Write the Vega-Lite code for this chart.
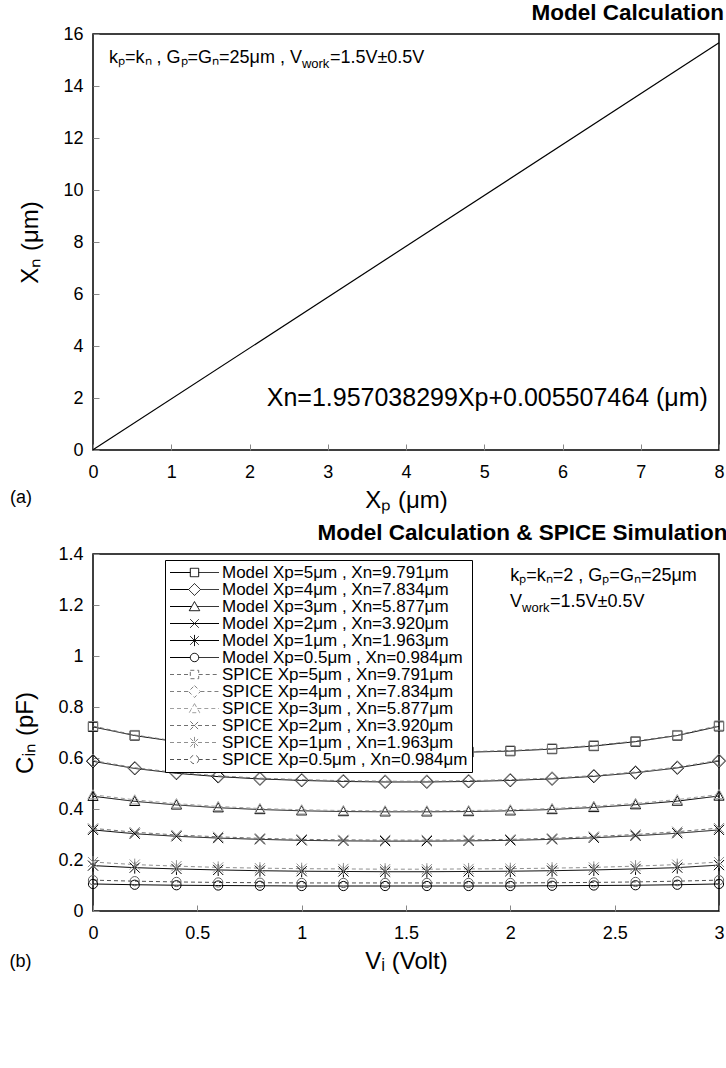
{
  "$schema": "https://vega.github.io/schema/vega-lite/v6.json",
  "background": "white",
  "padding": {"left": 8, "top": 0, "right": 4, "bottom": 0},
  "spacing": 7,
  "datasets": {
    "lineA": [{"x": 0, "y": 0.0055}, {"x": 8, "y": 15.662}],
    "annA_R": [{"x": 2.67, "y": 15.08, "t": "kₚ=kₙ , Gₚ=Gₙ=25μm , V"}],
    "annA_S": [{"x": 2.67, "y": 15.08, "t": "work"}],
    "annA_L": [{"x": 2.67, "y": 15.08, "t": "=1.5V±0.5V"}],
    "formulaA": [{"x": 2.22, "y": 2.0, "t": "Xn=1.957038299Xp+0.005507464 (μm)"}],
    "tagA": [{"x": -1.06, "y": -1.85, "t": "(a)"}],
    "labels": [
      {"key": "M5", "series": "Model Xp=5μm , Xn=9.791μm"},
      {"key": "M4", "series": "Model Xp=4μm , Xn=7.834μm"},
      {"key": "M3", "series": "Model Xp=3μm , Xn=5.877μm"},
      {"key": "M2", "series": "Model Xp=2μm , Xn=3.920μm"},
      {"key": "M1", "series": "Model Xp=1μm , Xn=1.963μm"},
      {"key": "M05", "series": "Model Xp=0.5μm , Xn=0.984μm"},
      {"key": "S5", "series": "SPICE Xp=5μm , Xn=9.791μm"},
      {"key": "S4", "series": "SPICE Xp=4μm , Xn=7.834μm"},
      {"key": "S3", "series": "SPICE Xp=3μm , Xn=5.877μm"},
      {"key": "S2", "series": "SPICE Xp=2μm , Xn=3.920μm"},
      {"key": "S1", "series": "SPICE Xp=1μm , Xn=1.963μm"},
      {"key": "S05", "series": "SPICE Xp=0.5μm , Xn=0.984μm"}
    ],
    "capB": [
      {"x": 0.0, "M5": 0.722, "M4": 0.587, "M3": 0.450, "M2": 0.318, "M1": 0.178, "M05": 0.106, "S5": 0.725, "S4": 0.590, "S3": 0.456, "S2": 0.324, "S1": 0.192, "S05": 0.121},
      {"x": 0.2, "M5": 0.688, "M4": 0.559, "M3": 0.430, "M2": 0.303, "M1": 0.170, "M05": 0.103, "S5": 0.690, "S4": 0.562, "S3": 0.436, "S2": 0.309, "S1": 0.182, "S05": 0.117},
      {"x": 0.4, "M5": 0.664, "M4": 0.540, "M3": 0.416, "M2": 0.293, "M1": 0.165, "M05": 0.101, "S5": 0.666, "S4": 0.543, "S3": 0.421, "S2": 0.298, "S1": 0.176, "S05": 0.114},
      {"x": 0.6, "M5": 0.648, "M4": 0.527, "M3": 0.405, "M2": 0.286, "M1": 0.161, "M05": 0.100, "S5": 0.650, "S4": 0.530, "S3": 0.410, "S2": 0.291, "S1": 0.171, "S05": 0.112},
      {"x": 0.8, "M5": 0.636, "M4": 0.518, "M3": 0.398, "M2": 0.281, "M1": 0.158, "M05": 0.099, "S5": 0.638, "S4": 0.521, "S3": 0.402, "S2": 0.285, "S1": 0.168, "S05": 0.111},
      {"x": 1.0, "M5": 0.628, "M4": 0.512, "M3": 0.393, "M2": 0.277, "M1": 0.156, "M05": 0.098, "S5": 0.630, "S4": 0.515, "S3": 0.397, "S2": 0.281, "S1": 0.166, "S05": 0.110},
      {"x": 1.2, "M5": 0.623, "M4": 0.508, "M3": 0.390, "M2": 0.275, "M1": 0.155, "M05": 0.098, "S5": 0.625, "S4": 0.511, "S3": 0.394, "S2": 0.279, "S1": 0.165, "S05": 0.110},
      {"x": 1.4, "M5": 0.621, "M4": 0.506, "M3": 0.389, "M2": 0.274, "M1": 0.154, "M05": 0.098, "S5": 0.623, "S4": 0.509, "S3": 0.393, "S2": 0.278, "S1": 0.164, "S05": 0.110},
      {"x": 1.6, "M5": 0.621, "M4": 0.506, "M3": 0.389, "M2": 0.274, "M1": 0.154, "M05": 0.098, "S5": 0.623, "S4": 0.509, "S3": 0.393, "S2": 0.278, "S1": 0.164, "S05": 0.110},
      {"x": 1.8, "M5": 0.623, "M4": 0.508, "M3": 0.390, "M2": 0.275, "M1": 0.155, "M05": 0.098, "S5": 0.625, "S4": 0.511, "S3": 0.394, "S2": 0.279, "S1": 0.165, "S05": 0.110},
      {"x": 2.0, "M5": 0.627, "M4": 0.512, "M3": 0.393, "M2": 0.277, "M1": 0.156, "M05": 0.098, "S5": 0.629, "S4": 0.515, "S3": 0.397, "S2": 0.281, "S1": 0.166, "S05": 0.110},
      {"x": 2.2, "M5": 0.635, "M4": 0.518, "M3": 0.398, "M2": 0.281, "M1": 0.158, "M05": 0.099, "S5": 0.637, "S4": 0.521, "S3": 0.402, "S2": 0.285, "S1": 0.168, "S05": 0.111},
      {"x": 2.4, "M5": 0.647, "M4": 0.528, "M3": 0.406, "M2": 0.287, "M1": 0.161, "M05": 0.100, "S5": 0.649, "S4": 0.531, "S3": 0.411, "S2": 0.292, "S1": 0.171, "S05": 0.112},
      {"x": 2.6, "M5": 0.664, "M4": 0.542, "M3": 0.417, "M2": 0.295, "M1": 0.165, "M05": 0.101, "S5": 0.666, "S4": 0.545, "S3": 0.422, "S2": 0.300, "S1": 0.176, "S05": 0.114},
      {"x": 2.8, "M5": 0.688, "M4": 0.561, "M3": 0.431, "M2": 0.305, "M1": 0.170, "M05": 0.103, "S5": 0.690, "S4": 0.564, "S3": 0.437, "S2": 0.311, "S1": 0.182, "S05": 0.117},
      {"x": 3.0, "M5": 0.724, "M4": 0.588, "M3": 0.451, "M2": 0.318, "M1": 0.180, "M05": 0.106, "S5": 0.727, "S4": 0.591, "S3": 0.457, "S2": 0.325, "S1": 0.192, "S05": 0.121}
    ],
    "annB_L": [{"x": 2.0, "y": 1.314, "t": "kₚ=kₙ=2 , Gₚ=Gₙ=25μm"}],
    "annB_R": [{"x": 2.056, "y": 1.212, "t": "V"}],
    "annB_S": [{"x": 2.056, "y": 1.212, "t": "work"}],
    "annB_A": [{"x": 2.056, "y": 1.212, "t": "=1.5V±0.5V"}],
    "tagB": [{"x": -0.4, "y": -0.2, "t": "(b)"}]
  },
  "vconcat": [
    {
      "width": 626,
      "height": 416,
      "title": {"text": "Model Calculation"},
      "layer": [
        {
          "data": {"name": "lineA"},
          "mark": {"type": "line", "color": "black", "strokeWidth": 1.2},
          "encoding": {
            "x": {"field": "x", "type": "quantitative", "scale": {"domain": [0, 8], "nice": false}, "axis": {"title": "Xₚ (μm)", "values": [0, 1, 2, 3, 4, 5, 6, 7, 8], "format": "~g"}},
            "y": {"field": "y", "type": "quantitative", "scale": {"domain": [0, 16], "nice": false}, "axis": {"title": "Xₙ (μm)", "values": [0, 2, 4, 6, 8, 10, 12, 14, 16], "format": "~g"}}
          }
        },
        {
          "data": {"name": "annA_R"},
          "mark": {"type": "text", "align": "right", "baseline": "middle", "fontSize": 18, "color": "black"},
          "encoding": {"x": {"field": "x", "type": "quantitative"}, "y": {"field": "y", "type": "quantitative"}, "text": {"field": "t"}}
        },
        {
          "data": {"name": "annA_S"},
          "mark": {"type": "text", "align": "left", "baseline": "middle", "fontSize": 13, "dy": 6, "color": "black"},
          "encoding": {"x": {"field": "x", "type": "quantitative"}, "y": {"field": "y", "type": "quantitative"}, "text": {"field": "t"}}
        },
        {
          "data": {"name": "annA_L"},
          "mark": {"type": "text", "align": "left", "baseline": "middle", "fontSize": 18, "dx": 28, "color": "black"},
          "encoding": {"x": {"field": "x", "type": "quantitative"}, "y": {"field": "y", "type": "quantitative"}, "text": {"field": "t"}}
        },
        {
          "data": {"name": "formulaA"},
          "mark": {"type": "text", "align": "left", "baseline": "middle", "fontSize": 25, "color": "black"},
          "encoding": {"x": {"field": "x", "type": "quantitative"}, "y": {"field": "y", "type": "quantitative"}, "text": {"field": "t"}}
        },
        {
          "data": {"name": "tagA"},
          "mark": {"type": "text", "align": "left", "baseline": "middle", "fontSize": 18, "color": "black"},
          "encoding": {"x": {"field": "x", "type": "quantitative"}, "y": {"field": "y", "type": "quantitative"}, "text": {"field": "t"}}
        }
      ]
    },
    {
      "width": 626,
      "height": 357,
      "title": {"text": "Model Calculation & SPICE Simulation"},
      "data": {"name": "capB"},
      "transform": [
        {"fold": ["M5", "M4", "M3", "M2", "M1", "M05", "S5", "S4", "S3", "S2", "S1", "S05"], "as": ["key", "y"]},
        {"lookup": "key", "from": {"data": {"name": "labels"}, "key": "key", "fields": ["series"]}}
      ],
      "layer": [
        {
          "mark": {"type": "line", "strokeWidth": 1},
          "encoding": {
            "x": {"field": "x", "type": "quantitative", "scale": {"domain": [0, 3], "nice": false}, "axis": {"title": "Vᵢ (Volt)", "values": [0, 0.5, 1, 1.5, 2, 2.5, 3], "format": "~g"}},
            "y": {"field": "y", "type": "quantitative", "scale": {"domain": [0, 1.4], "nice": false}, "axis": {"title": "Cᵢₙ (pF)", "values": [0, 0.2, 0.4, 0.6, 0.8, 1, 1.2, 1.4], "format": "~g"}},
            "stroke": {
              "field": "series", "type": "nominal",
              "scale": {
                "domain": ["Model Xp=5μm , Xn=9.791μm", "Model Xp=4μm , Xn=7.834μm", "Model Xp=3μm , Xn=5.877μm", "Model Xp=2μm , Xn=3.920μm", "Model Xp=1μm , Xn=1.963μm", "Model Xp=0.5μm , Xn=0.984μm", "SPICE Xp=5μm , Xn=9.791μm", "SPICE Xp=4μm , Xn=7.834μm", "SPICE Xp=3μm , Xn=5.877μm", "SPICE Xp=2μm , Xn=3.920μm", "SPICE Xp=1μm , Xn=1.963μm", "SPICE Xp=0.5μm , Xn=0.984μm"],
                "range": ["#000000", "#000000", "#000000", "#000000", "#000000", "#000000", "#707070", "#808080", "#a0a0a0", "#707070", "#909090", "#505050"]
              }
            },
            "strokeDash": {
              "field": "series", "type": "nominal",
              "scale": {
                "domain": ["Model Xp=5μm , Xn=9.791μm", "Model Xp=4μm , Xn=7.834μm", "Model Xp=3μm , Xn=5.877μm", "Model Xp=2μm , Xn=3.920μm", "Model Xp=1μm , Xn=1.963μm", "Model Xp=0.5μm , Xn=0.984μm", "SPICE Xp=5μm , Xn=9.791μm", "SPICE Xp=4μm , Xn=7.834μm", "SPICE Xp=3μm , Xn=5.877μm", "SPICE Xp=2μm , Xn=3.920μm", "SPICE Xp=1μm , Xn=1.963μm", "SPICE Xp=0.5μm , Xn=0.984μm"],
                "range": [[1, 0], [1, 0], [1, 0], [1, 0], [1, 0], [1, 0], [4, 3], [4, 3], [4, 3], [4, 3], [4, 3], [4, 3]]
              }
            }
          }
        },
        {
          "transform": [{"filter": {"field": "key", "oneOf": ["M5", "S5"]}}],
          "mark": {"type": "point", "shape": "M-1,-1H1V1H-1Z", "filled": false, "size": 85, "strokeWidth": 1, "opacity": 1},
          "encoding": {"x": {"field": "x", "type": "quantitative"}, "y": {"field": "y", "type": "quantitative"}, "stroke": {"condition": {"test": "indexof(datum.key, 'S') == 0", "value": "#808080"}, "value": "#000000"}}
        },
        {
          "transform": [{"filter": {"field": "key", "oneOf": ["M4", "S4"]}}],
          "mark": {"type": "point", "shape": "M0,-1.4L1.4,0L0,1.4L-1.4,0Z", "filled": false, "size": 85, "strokeWidth": 1, "opacity": 1},
          "encoding": {"x": {"field": "x", "type": "quantitative"}, "y": {"field": "y", "type": "quantitative"}, "stroke": {"condition": {"test": "indexof(datum.key, 'S') == 0", "value": "#808080"}, "value": "#000000"}}
        },
        {
          "transform": [{"filter": {"field": "key", "oneOf": ["M3", "S3"]}}],
          "mark": {"type": "point", "shape": "M0,-1.1L1.1,0.9H-1.1Z", "filled": false, "size": 85, "strokeWidth": 1, "opacity": 1},
          "encoding": {"x": {"field": "x", "type": "quantitative"}, "y": {"field": "y", "type": "quantitative"}, "stroke": {"condition": {"test": "indexof(datum.key, 'S') == 0", "value": "#a0a0a0"}, "value": "#000000"}}
        },
        {
          "transform": [{"filter": {"field": "key", "oneOf": ["M2", "S2"]}}],
          "mark": {"type": "point", "shape": "M-1.1,-1.1L1.1,1.1M-1.1,1.1L1.1,-1.1", "filled": false, "size": 85, "strokeWidth": 1, "opacity": 1},
          "encoding": {"x": {"field": "x", "type": "quantitative"}, "y": {"field": "y", "type": "quantitative"}, "stroke": {"condition": {"test": "indexof(datum.key, 'S') == 0", "value": "#808080"}, "value": "#000000"}}
        },
        {
          "transform": [{"filter": {"field": "key", "oneOf": ["M1", "S1"]}}],
          "mark": {"type": "point", "shape": "M-1.1,-1.1L1.1,1.1M-1.1,1.1L1.1,-1.1M0,-1.3V1.3", "filled": false, "size": 85, "strokeWidth": 1, "opacity": 1},
          "encoding": {"x": {"field": "x", "type": "quantitative"}, "y": {"field": "y", "type": "quantitative"}, "stroke": {"condition": {"test": "indexof(datum.key, 'S') == 0", "value": "#909090"}, "value": "#000000"}}
        },
        {
          "transform": [{"filter": {"field": "key", "oneOf": ["M05", "S05"]}}],
          "mark": {"type": "point", "shape": "circle", "filled": false, "size": 85, "strokeWidth": 1, "opacity": 1},
          "encoding": {"x": {"field": "x", "type": "quantitative"}, "y": {"field": "y", "type": "quantitative"}, "stroke": {"condition": {"test": "indexof(datum.key, 'S') == 0", "value": "#606060"}, "value": "#000000"}}
        },
        {
          "transform": [{"filter": "datum.x > 10"}],
          "mark": {"type": "point", "filled": false, "size": 196, "strokeWidth": 1, "opacity": 1},
          "encoding": {
            "x": {"field": "x", "type": "quantitative"},
            "y": {"field": "y", "type": "quantitative"},
            "stroke": {
              "field": "series", "type": "nominal",
              "legend": {
                "title": null, "orient": "none", "legendX": 72, "legendY": 526,
                "strokeColor": "black", "fillColor": "white", "padding": 4,
                "labelFont": "Liberation Sans", "labelFontSize": 17, "labelColor": "black", "labelLimit": 400, "labelOffset": 19,
                "symbolSize": 196, "symbolOffset": 17, "symbolStrokeWidth": 1, "symbolOpacity": 1, "rowPadding": -6
              }
            },
            "strokeDash": {"field": "series", "type": "nominal"},
            "shape": {
              "field": "series", "type": "nominal",
              "scale": {
                "domain": ["Model Xp=5μm , Xn=9.791μm", "Model Xp=4μm , Xn=7.834μm", "Model Xp=3μm , Xn=5.877μm", "Model Xp=2μm , Xn=3.920μm", "Model Xp=1μm , Xn=1.963μm", "Model Xp=0.5μm , Xn=0.984μm", "SPICE Xp=5μm , Xn=9.791μm", "SPICE Xp=4μm , Xn=7.834μm", "SPICE Xp=3μm , Xn=5.877μm", "SPICE Xp=2μm , Xn=3.920μm", "SPICE Xp=1μm , Xn=1.963μm", "SPICE Xp=0.5μm , Xn=0.984μm"],
                "range": [
                  "M-0.6,-0.6H0.6V0.6H-0.6ZM-3.5,0H-0.6M0.6,0H3.5",
                  "M0,-0.85L0.85,0L0,0.85L-0.85,0ZM-3.5,0H-0.85M0.85,0H3.5",
                  "M0,-0.7L0.75,0.6H-0.75ZM-3.5,0H-0.4M0.4,0H3.5",
                  "M-0.6,-0.6L0.6,0.6M-0.6,0.6L0.6,-0.6M-3.5,0H3.5",
                  "M-0.6,-0.6L0.6,0.6M-0.6,0.6L0.6,-0.6M0,-0.8V0.8M-3.5,0H3.5",
                  "M0.6,0A0.6,0.6 0 1 1 -0.6,0A0.6,0.6 0 1 1 0.6,0ZM-3.5,0H-0.6M0.6,0H3.5",
                  "M-0.6,-0.6H0.6V0.6H-0.6ZM-3.5,0H-0.6M0.6,0H3.5",
                  "M0,-0.85L0.85,0L0,0.85L-0.85,0ZM-3.5,0H-0.85M0.85,0H3.5",
                  "M0,-0.7L0.75,0.6H-0.75ZM-3.5,0H-0.4M0.4,0H3.5",
                  "M-0.6,-0.6L0.6,0.6M-0.6,0.6L0.6,-0.6M-3.5,0H3.5",
                  "M-0.6,-0.6L0.6,0.6M-0.6,0.6L0.6,-0.6M0,-0.8V0.8M-3.5,0H3.5",
                  "M0.6,0A0.6,0.6 0 1 1 -0.6,0A0.6,0.6 0 1 1 0.6,0ZM-3.5,0H-0.6M0.6,0H3.5"
                ]
              }
            }
          }
        },
        {
          "data": {"name": "annB_L"},
          "mark": {"type": "text", "align": "left", "baseline": "middle", "fontSize": 18, "color": "black"},
          "encoding": {"x": {"field": "x", "type": "quantitative"}, "y": {"field": "y", "type": "quantitative"}, "text": {"field": "t"}}
        },
        {
          "data": {"name": "annB_R"},
          "mark": {"type": "text", "align": "right", "baseline": "middle", "fontSize": 18, "color": "black"},
          "encoding": {"x": {"field": "x", "type": "quantitative"}, "y": {"field": "y", "type": "quantitative"}, "text": {"field": "t"}}
        },
        {
          "data": {"name": "annB_S"},
          "mark": {"type": "text", "align": "left", "baseline": "middle", "fontSize": 13, "dy": 6, "color": "black"},
          "encoding": {"x": {"field": "x", "type": "quantitative"}, "y": {"field": "y", "type": "quantitative"}, "text": {"field": "t"}}
        },
        {
          "data": {"name": "annB_A"},
          "mark": {"type": "text", "align": "left", "baseline": "middle", "fontSize": 18, "dx": 28, "color": "black"},
          "encoding": {"x": {"field": "x", "type": "quantitative"}, "y": {"field": "y", "type": "quantitative"}, "text": {"field": "t"}}
        },
        {
          "data": {"name": "tagB"},
          "mark": {"type": "text", "align": "left", "baseline": "middle", "fontSize": 18, "color": "black"},
          "encoding": {"x": {"field": "x", "type": "quantitative"}, "y": {"field": "y", "type": "quantitative"}, "text": {"field": "t"}}
        }
      ]
    }
  ],
  "config": {
    "font": "Liberation Sans",
    "view": {"stroke": "black", "strokeWidth": 1.5},
    "axis": {
      "domain": false, "grid": false,
      "tickColor": "#888888", "tickSize": -6, "tickWidth": 1,
      "labelFont": "Liberation Sans", "labelFontSize": 18, "labelColor": "black", "labelFlush": false, "labelOverlap": false,
      "titleFont": "Liberation Sans", "titleFontSize": 24, "titleFontWeight": "normal", "titleColor": "black"
    },
    "axisX": {"labelPadding": 19, "titlePadding": 7},
    "axisY": {"labelPadding": 16, "titlePadding": 20},
    "title": {"fontSize": 22.5, "fontWeight": "bold", "anchor": "end", "color": "black", "font": "Liberation Sans", "offset": 1},
    "text": {"font": "Liberation Sans"}
  }
}
